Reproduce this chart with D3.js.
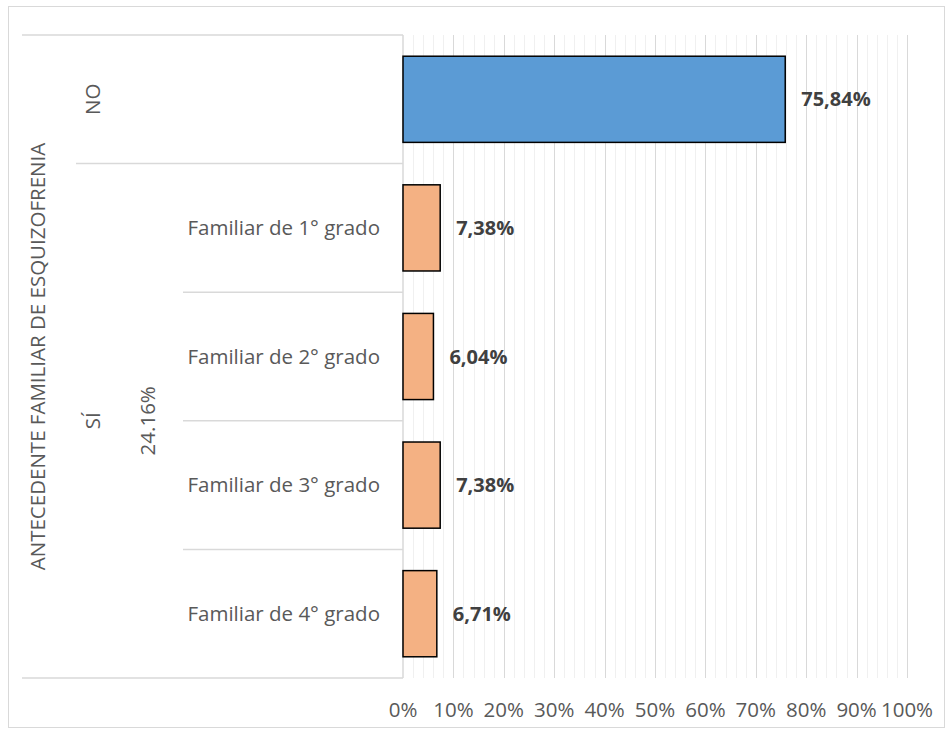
<!DOCTYPE html>
<html>
<head>
<meta charset="utf-8">
<script src="https://cdn.jsdelivr.net/npm/d3@7"></script>
<style>
  html, body { margin: 0; padding: 0; background: #fff; }
  svg { display: block; }
  text { font-family: "Open Sans", Lato, sans-serif; }
</style>
</head>
<body>
<svg id="chart" width="952" height="736"></svg>
<script>
// ---- data ----
const groupTitle = "ANTECEDENTE FAMILIAR DE ESQUIZOFRENIA";
const groups = ["NO", "SÍ"];
const groupNotes = ["", "24.16%"];
const groupSpans = [1, 4];            // number of rows each group covers
const subCategories = ["", "Familiar de 1° grado", "Familiar de 2° grado", "Familiar de 3° grado", "Familiar de 4° grado"];
const values = [75.84, 7.38, 6.04, 7.38, 6.71];
const barGroup = [0, 1, 1, 1, 1];
const groupColors = ["#5B9BD5", "#F4B183"];
const tickValues = [0, 10, 20, 30, 40, 50, 60, 70, 80, 90, 100];
const minorTickValues = d3.range(0, 101, 2);

// ---- layout ----
const svg = d3.select("#chart");
const plot = { left: 403, right: 907, top: 35, bottom: 678 };
const tableLeft = 22;
const fs = 20.5;
const fsBold = 20;

svg.append("rect").attr("x", 8.5).attr("y", 6.5).attr("width", 936).attr("height", 721)
  .attr("fill", "#fff").attr("stroke", "#D9D9D9").attr("stroke-width", 1);

const x = d3.scaleLinear().domain([0, 100]).range([plot.left, plot.right]);
const rows = d3.scaleBand().domain(d3.range(values.length)).range([plot.top, plot.bottom]).padding(0);
const y = d3.scaleBand().domain(d3.range(values.length)).range([plot.top, plot.bottom])
  .paddingInner(0.33).paddingOuter(0.165);

// gridlines
svg.append("g").selectAll("line").data(minorTickValues.filter(v => v % 10 !== 0)).join("line")
  .attr("x1", d => Math.round(x(d)) + 0.5).attr("x2", d => Math.round(x(d)) + 0.5)
  .attr("y1", plot.top).attr("y2", plot.bottom)
  .attr("stroke", "#F0F0F0").attr("stroke-width", 1);
svg.append("g").selectAll("line").data(tickValues.slice(1)).join("line")
  .attr("x1", d => Math.round(x(d)) + 0.5).attr("x2", d => Math.round(x(d)) + 0.5)
  .attr("y1", plot.top).attr("y2", plot.bottom)
  .attr("stroke", "#D9D9D9").attr("stroke-width", 1);

// category table lines
const tl = svg.append("g").attr("stroke", "#D9D9D9").attr("stroke-width", 1.5);
tl.append("line").attr("x1", tableLeft).attr("x2", plot.left).attr("y1", plot.top).attr("y2", plot.top);
tl.append("line").attr("x1", tableLeft).attr("x2", plot.left).attr("y1", plot.bottom).attr("y2", plot.bottom);
tl.append("line").attr("x1", plot.left).attr("x2", plot.left).attr("y1", plot.top).attr("y2", plot.bottom);
let acc = 0;
groupSpans.forEach((s, i) => {
  acc += s;
  if (i < groupSpans.length - 1) {
    tl.append("line").attr("x1", 76).attr("x2", plot.left)
      .attr("y1", rows(acc)).attr("y2", rows(acc));
  }
});
for (let i = 2; i < values.length; i++) {
  tl.append("line").attr("x1", 183).attr("x2", plot.left)
    .attr("y1", rows(i)).attr("y2", rows(i));
}

// bars
svg.append("g").selectAll("rect").data(values).join("rect")
  .attr("x", x(0))
  .attr("y", (d, i) => y(i))
  .attr("width", d => x(d) - x(0))
  .attr("height", y.bandwidth())
  .attr("fill", (d, i) => groupColors[barGroup[i]])
  .attr("stroke", "#000").attr("stroke-width", 1.5);

// value labels
const fmt = v => d3.format(".2f")(v).replace(".", ",") + "%";
svg.append("g").selectAll("text").data(values).join("text")
  .attr("x", d => x(d) + 16)
  .attr("y", (d, i) => y(i) + y.bandwidth() / 2)
  .attr("dy", "0.35em")
  .attr("font-size", fsBold).attr("font-weight", "bold").attr("fill", "#404040")
  .text(fmt);

// x axis tick labels
svg.append("g").selectAll("text").data(tickValues).join("text")
  .attr("x", d => x(d)).attr("y", 710).attr("dy", "0.35em")
  .attr("text-anchor", "middle").attr("font-size", fs).attr("fill", "#595959")
  .text(d => d + "%");

// sub category labels
svg.append("g").selectAll("text").data(subCategories).join("text")
  .attr("x", 380).attr("y", (d, i) => rows(i) + rows.bandwidth() / 2).attr("dy", "0.35em")
  .attr("text-anchor", "end").attr("font-size", fs).attr("fill", "#595959")
  .text(d => d);

// group labels (rotated)
acc = 0;
groups.forEach((g, i) => {
  const y0 = rows(acc);
  acc += groupSpans[i];
  const y1 = acc < values.length ? rows(acc) : plot.bottom;
  const cy = (y0 + y1) / 2;
  svg.append("text").attr("transform", `translate(93,${cy}) rotate(-90)`)
    .attr("text-anchor", "middle").attr("dy", "0.35em")
    .attr("font-size", fs).attr("fill", "#595959").text(g);
  if (groupNotes[i]) {
    svg.append("text").attr("transform", `translate(148,${cy}) rotate(-90)`)
      .attr("text-anchor", "middle").attr("dy", "0.35em")
      .attr("font-size", fs).attr("fill", "#595959").text(groupNotes[i]);
  }
});

// outer title
svg.append("text").attr("transform", `translate(38,${(plot.top + plot.bottom) / 2}) rotate(-90)`)
  .attr("text-anchor", "middle").attr("dy", "0.35em")
  .attr("font-size", fs).attr("fill", "#595959").text(groupTitle);
</script>
</body>
</html>
